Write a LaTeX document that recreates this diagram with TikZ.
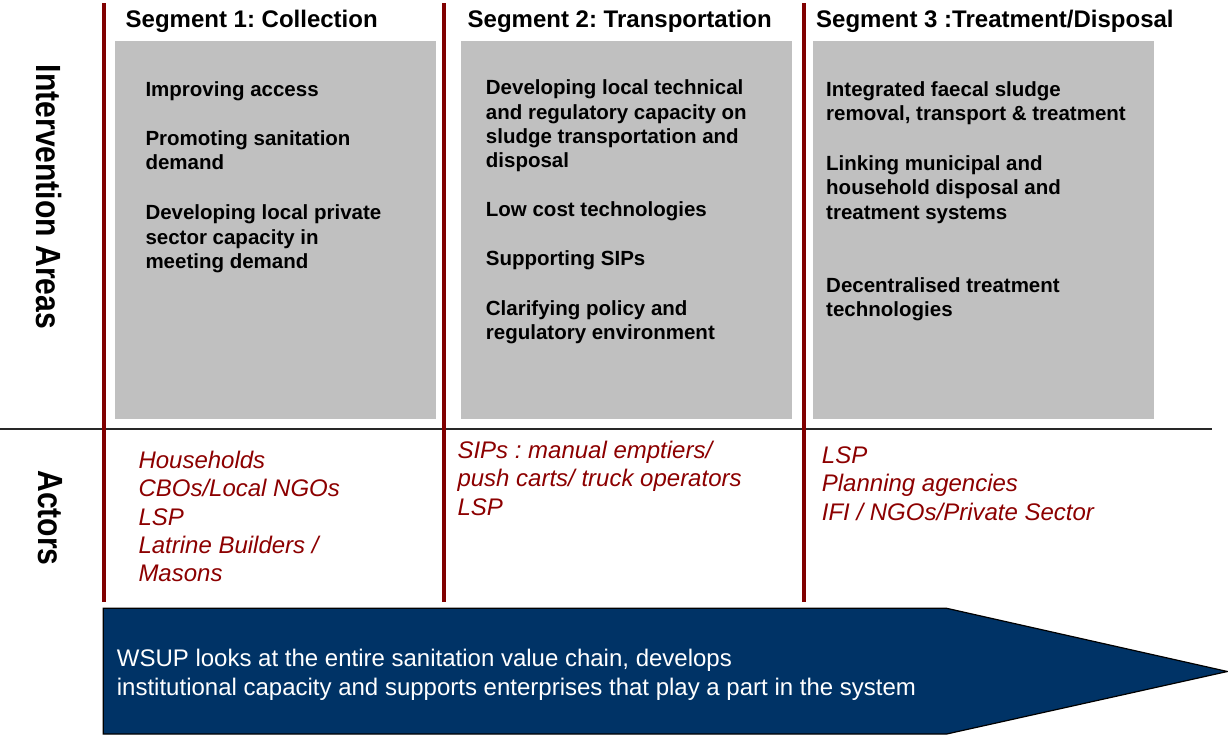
\documentclass[tikz,border=0pt]{standalone}
\usepackage{fontspec}
\usepackage{graphicx}
\setmainfont{Liberation Sans}
\frenchspacing
\definecolor{segred}{RGB}{128,0,0}
\definecolor{actred}{RGB}{140,0,0}
\definecolor{boxgray}{RGB}{192,192,192}
\definecolor{wsupblue}{RGB}{0,51,102}
\definecolor{rulegray}{RGB}{40,40,40}
\newcommand\mylines[1]{\begin{tabular}[t]{@{}l@{}}#1\end{tabular}}
\begin{document}
\begin{tikzpicture}[x=1pt,y=-1pt,
  hdr/.style={anchor=base west, inner sep=0, font=\bfseries\fontsize{24}{28}\selectfont},
  body/.style={anchor=base west, inner sep=0, font=\bfseries\fontsize{20.5}{24.2}\selectfont},
  actor/.style={anchor=base west, inner sep=0, text=actred, font=\itshape\fontsize{24}{28.4}\selectfont},
  side/.style={rotate=-90, inner sep=0, font=\bfseries\fontsize{35}{40}\selectfont},
  segline/.style={draw=segred, line width=4pt},
  gbox/.style={fill=boxgray},
  arrowtext/.style={anchor=base west, inner sep=0, text=white, font=\fontsize{24}{29}\selectfont}]
\useasboundingbox (0,0) rectangle (1228,735);

% grey boxes
\fill[gbox] (115,41) rectangle (436,418.5);
\fill[gbox] (461,41) rectangle (791.7,418.5);
\fill[gbox] (812.7,41) rectangle (1154,418.5);

% horizontal rule
\draw[rulegray, line width=1.5pt] (0,429) -- (1212,429);

% segment separators
\draw[segline] (103.5,3.3) -- (103.5,602.3);
\draw[segline] (443.7,3.3) -- (443.7,602.3);
\draw[segline] (803.7,3.3) -- (803.7,602.3);

% side labels
\node[side] (ia) at (49.5,197) {\scalebox{0.86}[1]{Intervention Areas}};
\node[side] (act) at (50.5,518) {\scalebox{0.86}[1]{Actors}};

% headers
\node[hdr] (h1) at (125.5,27.3) {Segment 1: Collection};
\node[hdr] (h2) at (467.5,27.3) {Segment 2: Transportation};
\node[hdr] (h3) at (816,27.3) {Segment 3 :Treatment/Disposal};

% column 1 body
\node[body] (c1a) at (145.3,96.7) {\mylines{Improving access}};
\node[body] (c1b) at (145.3,145.7) {\mylines{Promoting sanitation\\demand}};
\node[body] (c1c) at (145.3,220) {\mylines{Developing local private\\sector capacity in\\meeting demand}};

% column 2 body
\node[body] (c2a) at (485.7,95) {\mylines{Developing local technical\\and regulatory capacity on\\sludge transportation and\\disposal}};
\node[body] (c2b) at (485.7,216.7) {\mylines{Low cost technologies}};
\node[body] (c2c) at (485.7,265.3) {\mylines{Supporting SIPs}};
\node[body] (c2d) at (485.7,315) {\mylines{Clarifying policy and\\regulatory environment}};

% column 3 body
\node[body] (c3a) at (826,96.7) {\mylines{Integrated faecal sludge\\removal, transport \& treatment}};
\node[body] (c3b) at (826,170.7) {\mylines{Linking municipal and\\household disposal and\\treatment systems}};
\node[body] (c3c) at (826,292.3) {\mylines{Decentralised treatment\\technologies}};

% actors
\node[actor] (a1) at (138.3,468.3) {\mylines{Households\\CBOs/Local NGOs\\LSP\\Latrine Builders /\\Masons}};
\node[actor] (a2) at (457.3,458.3) {\mylines{SIPs : manual emptiers/\\push carts/ truck operators\\LSP}};
\node[actor] (a3) at (821.7,463.3) {\mylines{LSP\\Planning agencies\\IFI / NGOs/Private Sector}};

% bottom arrow
\draw[fill=wsupblue, draw=black, line width=1.2pt, line join=miter]
  (103.3,608.3) -- (946.7,608.3) -- (1227.4,671.5) -- (946.7,734) -- (103.3,734) -- cycle;
\node[arrowtext] (wsup) at (116.7,666) {\mylines{WSUP looks at the entire sanitation value chain, develops\\institutional capacity and supports enterprises that play a part in the system}};
\end{tikzpicture}
\end{document}
